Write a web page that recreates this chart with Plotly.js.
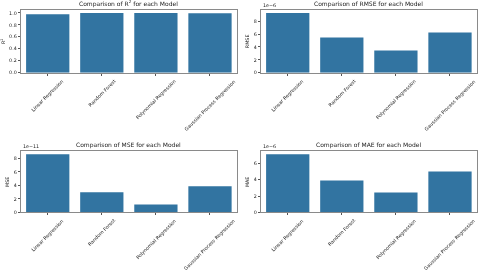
<!DOCTYPE html>
<html><head><meta charset="utf-8">
<script src="https://cdn.plot.ly/plotly-3.0.1.min.js"></script>
<style>html,body{margin:0;padding:0;background:#fff}#chart{width:480px;height:272px;will-change:transform}</style>
</head><body><div id="chart"></div>
<script>
const models = ["Linear Regression", "Random Forest", "Polynomial Regression", "Gaussian Process Regression"];
const r2Values = [0.978, 0.996, 0.998, 0.994];
const rmseValues = [9.27e-6, 5.45e-6, 3.44e-6, 6.25e-6];
const mseValues = [8.63e-11, 2.98e-11, 1.17e-11, 3.88e-11];
const maeValues = [7.13e-6, 3.91e-6, 2.46e-6, 5.0e-6];
const r2Ticks = [0, 0.2, 0.4, 0.6, 0.8, 1.0];
const r2TickText = ["0.0", "0.2", "0.4", "0.6", "0.8", "1.0"];
const rmseTicks = [0, 2, 4, 6, 8];
const mseTicks = [0, 2, 4, 6, 8];
const maeTicks = [0, 2, 4, 6];

const barColor = "#3274a1";
const font = "DejaVu Sans";
const tickSize = 4.8, titleSize = 6.0;
const frameColor = "#8a8a8a";
const panels = [
  {vals: r2Values, title: "Comparison of R<sup>2</sup> for each Model", ytitle: "R<sup>2</sup>", ticks: r2Ticks, text: r2TickText, scale: 1, exp: null, x: [0.0431, 0.4938], y: [0.7327, 0.9632]},
  {vals: rmseValues, title: "Comparison of RMSE for each Model", ytitle: "RMSE", ticks: rmseTicks, scale: 1e-6, exp: "1e\u22126", x: [0.5431, 0.9938], y: [0.7327, 0.9632]},
  {vals: mseValues, title: "Comparison of MSE for each Model", ytitle: "MSE", ticks: mseTicks, scale: 1e-11, exp: "1e\u221211", x: [0.0431, 0.4938], y: [0.2188, 0.4438]},
  {vals: maeValues, title: "Comparison of MAE for each Model", ytitle: "MAE", ticks: maeTicks, scale: 1e-6, exp: "1e\u22126", x: [0.5431, 0.9938], y: [0.2188, 0.4438]}
];

const data = [];
const layout = {
  width: 480, height: 272, margin: {l: 0, r: 0, t: 0, b: 0},
  paper_bgcolor: "#fff", plot_bgcolor: "#fff", showlegend: false,
  font: {family: font, size: tickSize, color: "#222"},
  bargap: 0.2, annotations: []
};
panels.forEach((p, i) => {
  const n = i === 0 ? "" : String(i + 1);
  const xa = "x" + n, ya = "y" + n;
  data.push({type: "bar", x: models, y: p.vals, xaxis: xa, yaxis: ya,
    marker: {color: barColor, line: {width: 0}}, hoverinfo: "skip"});
  const maxv = Math.max(...p.vals);
  layout["xaxis" + n] = {domain: p.x, anchor: ya, range: [-0.5, 3.5], showticklabels: false,
    ticks: "outside", ticklen: 2, tickcolor: "#555", showline: true, mirror: true,
    linecolor: frameColor, linewidth: 1, showgrid: false, zeroline: false, fixedrange: true};
  layout["yaxis" + n] = {domain: p.y, anchor: xa, range: [0, maxv * 1.05],
    tickvals: p.ticks.map(t => t * p.scale),
    ticktext: p.text ? p.text : p.ticks.map(t => String(t)),
    ticks: "outside", ticklen: 2, tickcolor: "#555", showline: true, mirror: true,
    linecolor: frameColor, linewidth: 1, showgrid: false, zeroline: false,
    tickfont: {family: font, size: tickSize, color: "#222"},
    title: {text: p.ytitle, font: {family: font, size: tickSize, color: "#222"}, standoff: 3}};
  layout.annotations.push({xref: xa + " domain", yref: ya + " domain", x: 0.5, y: 1, yshift: 0,
    xanchor: "center", yanchor: "bottom", showarrow: false, text: p.title,
    font: {family: font, size: titleSize, color: "#222"}});
  if (p.exp) {
    layout.annotations.push({xref: xa + " domain", yref: ya + " domain", x: 0, y: 1, yshift: 0,
      xanchor: "left", yanchor: "bottom", showarrow: false, text: p.exp,
      font: {family: font, size: tickSize, color: "#222"}});
  }
  models.forEach(m => {
    layout.annotations.push({xref: xa, yref: ya + " domain", x: m, y: 0, yshift: -3,
      xanchor: "center", yanchor: "top", textangle: -45, showarrow: false, text: m,
      font: {family: font, size: tickSize, color: "#222"}});
  });
});
Plotly.newPlot("chart", data, layout, {staticPlot: true, displayModeBar: false});
</script></body></html>
